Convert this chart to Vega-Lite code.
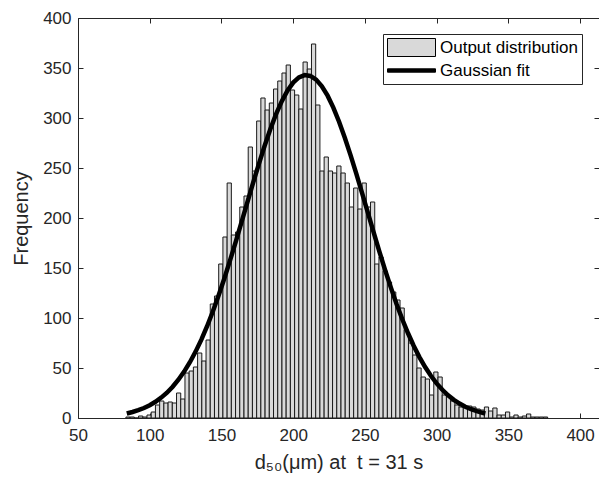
{
  "$schema": "https://vega.github.io/schema/vega-lite/v6.json",
  "width": 521,
  "height": 400,
  "autosize": {"type": "none"},
  "padding": {"left": 78, "top": 18, "right": 0, "bottom": 65},
  "background": "white",
  "config": {
    "font": "Liberation Sans",
    "view": {"stroke": null},
    "axis": {
      "grid": false,
      "domainColor": "#262626",
      "tickColor": "#262626",
      "labelColor": "#262626",
      "titleColor": "#262626",
      "labelFont": "Liberation Sans",
      "titleFont": "Liberation Sans",
      "labelFontSize": 17,
      "titleFontSize": 20,
      "titleFontWeight": "normal",
      "labelFlush": false,
      "labelOverlap": false,
      "tickSize": -5,
      "domainWidth": 1,
      "tickWidth": 1
    }
  },
  "datasets": {
    "hist": [
      {"x0": 83.40, "x1": 86.34, "count": 1},
      {"x0": 86.34, "x1": 89.28, "count": 1},
      {"x0": 89.28, "x1": 92.22, "count": 0},
      {"x0": 92.22, "x1": 95.16, "count": 2},
      {"x0": 95.16, "x1": 98.10, "count": 1},
      {"x0": 98.10, "x1": 101.04, "count": 3},
      {"x0": 101.04, "x1": 103.98, "count": 6},
      {"x0": 103.98, "x1": 106.92, "count": 13},
      {"x0": 106.92, "x1": 109.86, "count": 17},
      {"x0": 109.86, "x1": 112.80, "count": 15},
      {"x0": 112.80, "x1": 115.74, "count": 16},
      {"x0": 115.74, "x1": 118.68, "count": 15},
      {"x0": 118.68, "x1": 121.62, "count": 25},
      {"x0": 121.62, "x1": 124.56, "count": 19},
      {"x0": 124.56, "x1": 127.50, "count": 45},
      {"x0": 127.50, "x1": 130.44, "count": 47},
      {"x0": 130.44, "x1": 133.38, "count": 51},
      {"x0": 133.38, "x1": 136.32, "count": 65},
      {"x0": 136.32, "x1": 139.26, "count": 57},
      {"x0": 139.26, "x1": 142.20, "count": 78},
      {"x0": 142.20, "x1": 145.14, "count": 114},
      {"x0": 145.14, "x1": 148.08, "count": 122},
      {"x0": 148.08, "x1": 151.02, "count": 154},
      {"x0": 151.02, "x1": 153.96, "count": 181},
      {"x0": 153.96, "x1": 156.90, "count": 235},
      {"x0": 156.90, "x1": 159.84, "count": 183},
      {"x0": 159.84, "x1": 162.78, "count": 186},
      {"x0": 162.78, "x1": 165.72, "count": 211},
      {"x0": 165.72, "x1": 168.66, "count": 222},
      {"x0": 168.66, "x1": 171.60, "count": 271},
      {"x0": 171.60, "x1": 174.54, "count": 247},
      {"x0": 174.54, "x1": 177.48, "count": 297},
      {"x0": 177.48, "x1": 180.42, "count": 320},
      {"x0": 180.42, "x1": 183.36, "count": 308},
      {"x0": 183.36, "x1": 186.30, "count": 315},
      {"x0": 186.30, "x1": 189.24, "count": 329},
      {"x0": 189.24, "x1": 192.18, "count": 337},
      {"x0": 192.18, "x1": 195.12, "count": 345},
      {"x0": 195.12, "x1": 198.06, "count": 353},
      {"x0": 198.06, "x1": 201.00, "count": 328},
      {"x0": 201.00, "x1": 203.94, "count": 323},
      {"x0": 203.94, "x1": 206.88, "count": 309},
      {"x0": 206.88, "x1": 209.82, "count": 356},
      {"x0": 209.82, "x1": 212.76, "count": 349},
      {"x0": 212.76, "x1": 215.70, "count": 374},
      {"x0": 215.70, "x1": 218.64, "count": 313},
      {"x0": 218.64, "x1": 221.58, "count": 247},
      {"x0": 221.58, "x1": 224.52, "count": 261},
      {"x0": 224.52, "x1": 227.46, "count": 247},
      {"x0": 227.46, "x1": 230.40, "count": 245},
      {"x0": 230.40, "x1": 233.34, "count": 252},
      {"x0": 233.34, "x1": 236.28, "count": 245},
      {"x0": 236.28, "x1": 239.22, "count": 235},
      {"x0": 239.22, "x1": 242.16, "count": 211},
      {"x0": 242.16, "x1": 245.10, "count": 230},
      {"x0": 245.10, "x1": 248.04, "count": 209},
      {"x0": 248.04, "x1": 250.98, "count": 235},
      {"x0": 250.98, "x1": 253.92, "count": 211},
      {"x0": 253.92, "x1": 256.86, "count": 216},
      {"x0": 256.86, "x1": 259.80, "count": 154},
      {"x0": 259.80, "x1": 262.74, "count": 161},
      {"x0": 262.74, "x1": 265.68, "count": 147},
      {"x0": 265.68, "x1": 268.62, "count": 136},
      {"x0": 268.62, "x1": 271.56, "count": 126},
      {"x0": 271.56, "x1": 274.50, "count": 118},
      {"x0": 274.50, "x1": 277.44, "count": 110},
      {"x0": 277.44, "x1": 280.38, "count": 88},
      {"x0": 280.38, "x1": 283.32, "count": 75},
      {"x0": 283.32, "x1": 286.26, "count": 63},
      {"x0": 286.26, "x1": 289.20, "count": 50},
      {"x0": 289.20, "x1": 292.14, "count": 41},
      {"x0": 292.14, "x1": 295.08, "count": 39},
      {"x0": 295.08, "x1": 298.02, "count": 23},
      {"x0": 298.02, "x1": 300.96, "count": 46},
      {"x0": 300.96, "x1": 303.90, "count": 41},
      {"x0": 303.90, "x1": 306.84, "count": 23},
      {"x0": 306.84, "x1": 309.78, "count": 22},
      {"x0": 309.78, "x1": 312.72, "count": 17},
      {"x0": 312.72, "x1": 315.66, "count": 13},
      {"x0": 315.66, "x1": 318.60, "count": 11},
      {"x0": 318.60, "x1": 321.54, "count": 12},
      {"x0": 321.54, "x1": 324.48, "count": 12},
      {"x0": 324.48, "x1": 327.42, "count": 11},
      {"x0": 327.42, "x1": 330.36, "count": 9},
      {"x0": 330.36, "x1": 333.30, "count": 8},
      {"x0": 333.30, "x1": 336.24, "count": 11},
      {"x0": 336.24, "x1": 339.18, "count": 7},
      {"x0": 339.18, "x1": 342.12, "count": 10},
      {"x0": 342.12, "x1": 345.06, "count": 3},
      {"x0": 345.06, "x1": 348.00, "count": 3},
      {"x0": 348.00, "x1": 350.94, "count": 6},
      {"x0": 350.94, "x1": 353.88, "count": 1},
      {"x0": 353.88, "x1": 356.82, "count": 3},
      {"x0": 356.82, "x1": 359.76, "count": 1},
      {"x0": 359.76, "x1": 362.70, "count": 2},
      {"x0": 362.70, "x1": 365.64, "count": 4},
      {"x0": 365.64, "x1": 368.58, "count": 1},
      {"x0": 368.58, "x1": 371.52, "count": 1},
      {"x0": 371.52, "x1": 374.46, "count": 1},
      {"x0": 374.46, "x1": 377.40, "count": 1}
    ],
    "fit": [
      {"x": 84, "y": 4.5}, {"x": 88, "y": 6.0}, {"x": 92, "y": 7.8}, {"x": 96, "y": 10.0},
      {"x": 100, "y": 12.8}, {"x": 104, "y": 16.2}, {"x": 108, "y": 20.4}, {"x": 112, "y": 25.3},
      {"x": 116, "y": 31.3}, {"x": 120, "y": 38.3}, {"x": 124, "y": 46.4}, {"x": 128, "y": 55.8},
      {"x": 132, "y": 66.4}, {"x": 136, "y": 78.4}, {"x": 140, "y": 91.8}, {"x": 144, "y": 106.5},
      {"x": 148, "y": 122.5}, {"x": 152, "y": 139.5}, {"x": 156, "y": 157.6}, {"x": 160, "y": 176.4},
      {"x": 164, "y": 195.8}, {"x": 168, "y": 215.4}, {"x": 172, "y": 234.8}, {"x": 176, "y": 253.7},
      {"x": 180, "y": 271.8}, {"x": 184, "y": 288.5}, {"x": 188, "y": 303.6}, {"x": 192, "y": 316.6},
      {"x": 196, "y": 327.3}, {"x": 200, "y": 335.4}, {"x": 204, "y": 340.6}, {"x": 208, "y": 342.9},
      {"x": 212, "y": 342.1}, {"x": 216, "y": 338.4}, {"x": 220, "y": 331.7}, {"x": 224, "y": 322.3},
      {"x": 228, "y": 310.4}, {"x": 232, "y": 296.3}, {"x": 236, "y": 280.3}, {"x": 240, "y": 262.9},
      {"x": 244, "y": 244.4}, {"x": 248, "y": 225.1}, {"x": 252, "y": 205.6}, {"x": 256, "y": 186.1},
      {"x": 260, "y": 166.9}, {"x": 264, "y": 148.4}, {"x": 268, "y": 130.9}, {"x": 272, "y": 114.3},
      {"x": 276, "y": 99.0}, {"x": 280, "y": 85.0}, {"x": 284, "y": 72.3}, {"x": 288, "y": 60.9},
      {"x": 292, "y": 50.9}, {"x": 296, "y": 42.2}, {"x": 300, "y": 34.6}, {"x": 304, "y": 28.2},
      {"x": 308, "y": 22.7}, {"x": 312, "y": 18.2}, {"x": 316, "y": 14.4}, {"x": 320, "y": 11.3},
      {"x": 324, "y": 8.8}, {"x": 328, "y": 6.8}, {"x": 332, "y": 5.2}, {"x": 334, "y": 4.5}
    ]
  },
  "layer": [
    {
      "data": {"name": "hist"},
      "mark": {"type": "rect", "stroke": "#1a1a1a", "opacity": 1},
      "encoding": {
        "x": {
          "field": "x0", "type": "quantitative",
          "scale": {"domain": [50, 413.2], "nice": false, "zero": false},
          "axis": {"orient": "bottom", "values": [50, 100, 150, 200, 250, 300, 350, 400], "title": "d₅₀(μm) at\u00a0 t = 31 s", "labelPadding": 14, "titlePadding": 9}
        },
        "x2": {"field": "x1"},
        "y": {
          "field": "count", "type": "quantitative",
          "scale": {"domain": [0, 400], "nice": false},
          "axis": {"orient": "left", "values": [0, 50, 100, 150, 200, 250, 300, 350, 400], "title": "Frequency", "labelPadding": 12, "titlePadding": 11}
        },
        "y2": {"datum": 0},
        "fill": {
          "datum": "Output distribution", "type": "nominal",
          "scale": {"domain": ["Output distribution", "Gaussian fit"], "range": ["#d9d9d9", "#000000"]},
          "legend": {
            "title": null,
            "orient": "none",
            "legendX": 305,
            "legendY": 16,
            "symbolType": {"expr": "datum.value === 'Gaussian fit' ? 'M-1,-0.07H1V0.07H-1Z' : 'M-1,-0.375H1V0.375H-1Z'"},
            "symbolSize": 2304,
            "symbolStrokeColor": "#000000",
            "symbolStrokeWidth": 1,
            "clipHeight": 19,
            "rowPadding": 4,
            "labelOffset": 4,
            "padding": 4,
            "strokeColor": "#262626",
            "fillColor": "white",
            "labelFontSize": 17,
            "labelColor": "#000000",
            "labelFont": "Liberation Sans"
          }
        }
      }
    },
    {
      "data": {"name": "fit"},
      "mark": {"type": "line", "strokeWidth": 4.5, "color": "#000000"},
      "encoding": {
        "x": {"field": "x", "type": "quantitative", "axis": {"orient": "top", "values": [50, 100, 150, 200, 250, 300, 350, 400], "labels": false, "title": null}},
        "y": {"field": "y", "type": "quantitative", "axis": {"orient": "right", "values": [0, 50, 100, 150, 200, 250, 300, 350, 400], "labels": false, "title": null, "domain": false}}
      }
    }
  ],
  "resolve": {"axis": {"x": "independent", "y": "independent"}}
}
